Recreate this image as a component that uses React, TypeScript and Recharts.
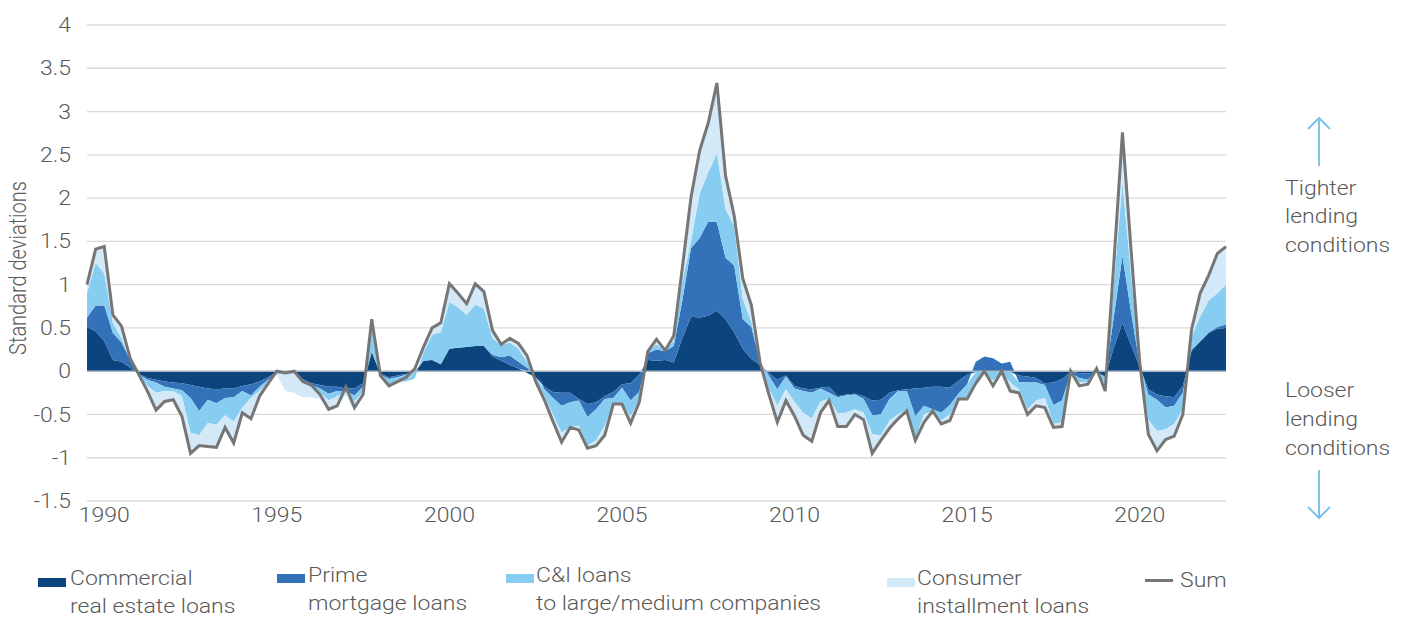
import React from 'react';
import { ComposedChart, Area, Line, XAxis, YAxis, CartesianGrid, ReferenceLine } from 'recharts';

// Quarterly observations, first quarter plotted = 1989 Q3
const START_YEAR = 1989.5;
const QUARTER = 0.25;

const cre = [
  0.51, 0.46, 0.35, 0.13, 0.11, 0.04, -0.03, -0.08, -0.10, -0.12,
  -0.13, -0.14, -0.16, -0.18, -0.20, -0.21, -0.20, -0.20, -0.17, -0.15,
  -0.12, -0.07, -0.01, -0.01, -0.01, -0.09, -0.14, -0.16, -0.18, -0.18,
  -0.20, -0.20, -0.14, 0.22, -0.03, -0.07, -0.05, -0.03, -0.01, 0.12,
  0.13, 0.08, 0.26, 0.27, 0.28, 0.29, 0.29, 0.17, 0.12, 0.07,
  0.03, -0.02, -0.07, -0.18, -0.24, -0.25, -0.25, -0.32, -0.38, -0.36,
  -0.29, -0.24, -0.15, -0.14, -0.04, 0.13, 0.12, 0.13, 0.10, 0.38,
  0.63, 0.62, 0.64, 0.70, 0.60, 0.45, 0.26, 0.14, 0.07, -0.02,
  -0.10, -0.05, -0.17, -0.20, -0.21, -0.19, -0.18, -0.29, -0.27, -0.26,
  -0.29, -0.34, -0.33, -0.25, -0.22, -0.21, -0.20, -0.19, -0.18, -0.18,
  -0.19, -0.11, -0.04, -0.01, -0.01, -0.01, -0.01, -0.01, -0.05, -0.06,
  -0.08, -0.14, -0.13, -0.09, -0.01, -0.02, -0.03, -0.01, -0.06, 0.27,
  0.56, 0.30, 0.05, -0.21, -0.27, -0.29, -0.30, -0.17, 0.23, 0.34,
  0.44, 0.49, 0.50,
];

const prime = [
  0.11, 0.30, 0.41, 0.31, 0.22, 0.09, -0.01, -0.02, -0.03, -0.06,
  -0.07, -0.08, -0.15, -0.28, -0.13, -0.16, -0.11, -0.10, -0.06, -0.13,
  -0.06, -0.03, -0.01, -0.01, -0.01, -0.02, -0.02, -0.04, -0.08, -0.05,
  -0.03, -0.08, -0.04, 0.01, -0.01, -0.02, -0.02, -0.01, -0.005, 0,
  0, 0, 0, 0, 0, 0, 0, 0.02, 0.04, 0.11,
  0.08, 0.04, 0, -0.03, -0.07, -0.15, -0.11, -0.02, -0.15, -0.08,
  -0.03, -0.07, -0.04, -0.20, -0.20, 0.08, 0.13, 0.10, 0.19, 0.44,
  0.79, 0.92, 1.09, 1.02, 0.71, 0.77, 0.34, 0.37, 0.03, -0.03,
  -0.11, -0.01, -0.03, -0.03, -0.04, -0.01, -0.07, -0.01, -0.01, -0.01,
  -0.03, -0.17, -0.17, -0.07, -0.01, -0.02, -0.32, -0.21, -0.26, -0.30,
  -0.20, -0.15, -0.11, 0.11, 0.17, 0.15, 0.09, 0.11, -0.08, -0.07,
  -0.05, -0.02, -0.26, -0.25, -0.01, -0.06, -0.07, 0.01, -0.02, 0.36,
  0.77, 0.38, 0.02, -0.06, -0.06, -0.13, -0.10, -0.08, 0.02, 0.01,
  0.01, 0.02, 0.04,
];

const cAndI = [
  0.28, 0.49, 0.37, 0.12, 0.05, 0.0, -0.01, -0.07, -0.12, -0.05,
  -0.03, -0.07, -0.40, -0.28, -0.27, -0.25, -0.20, -0.28, -0.19, -0.03,
  -0.05, -0.03, -0.01, -0.01, -0.01, -0.02, -0.03, -0.05, -0.08, -0.06,
  -0.02, -0.07, -0.06, 0.28, -0.02, -0.06, -0.05, -0.08, -0.07, 0.10,
  0.29, 0.37, 0.54, 0.47, 0.37, 0.48, 0.43, 0.19, 0.14, 0.15,
  0.15, 0.07, -0.04, -0.08, -0.19, -0.31, -0.29, -0.29, -0.33, -0.36,
  -0.31, -0.07, -0.19, -0.18, -0.10, 0.02, 0.06, 0.01, 0.06, 0.22,
  0.08, 0.51, 0.57, 0.80, 0.56, 0.46, 0.23, 0.06, 0, -0.15,
  -0.19, -0.15, -0.16, -0.25, -0.30, -0.15, -0.07, -0.19, -0.20, -0.17,
  -0.16, -0.22, -0.24, -0.25, -0.27, -0.21, -0.26, -0.10, -0.02, -0.09,
  -0.11, -0.07, -0.15, -0.10, -0.02, -0.10, -0.02, -0.12, -0.08, -0.31,
  -0.21, -0.15, -0.22, -0.25, -0.01, -0.05, -0.03, 0.01, -0.08, 0.38,
  0.85, 0.43, 0.02, -0.29, -0.36, -0.25, -0.21, -0.19, 0.15, 0.28,
  0.37, 0.39, 0.46,
];

const consumer = [
  0.10, 0.16, 0.31, 0.09, 0.14, 0.02, -0.01, -0.06, -0.20, -0.12,
  -0.10, -0.23, -0.24, -0.12, -0.27, -0.26, -0.14, -0.25, -0.06, -0.24,
  -0.06, -0.01, -0.01, -0.20, -0.22, -0.17, -0.11, -0.07, -0.10, -0.10,
  -0.03, -0.12, -0.03, 0.10, -0.01, -0.02, -0.01, -0.01, 0.05, 0.06,
  0.08, 0.11, 0.21, 0.16, 0.13, 0.24, 0.20, 0.09, 0.01, 0.05,
  0.06, 0.07, -0.01, -0.04, -0.08, -0.11, -0.01, -0.05, -0.03, -0.06,
  -0.11, -0.01, -0.01, -0.08, -0.02, 0, 0.06, 0, 0.06, 0.16,
  0.51, 0.50, 0.57, 0.81, 0.39, 0.12, 0.24, 0.19, 0, -0.07,
  -0.19, -0.13, -0.16, -0.26, -0.26, -0.14, -0.02, -0.16, -0.16, -0.06,
  -0.08, -0.22, -0.06, -0.09, -0.05, -0.02, -0.02, -0.09, -0.01, -0.04,
  -0.07, -0.01, -0.02, -0.06, -0.01, -0.06, -0.02, -0.10, -0.04, -0.06,
  -0.06, -0.11, -0.04, -0.05, -0.01, -0.05, -0.02, 0.01, -0.07, 0.24,
  0.58, 0.26, 0.01, -0.17, -0.23, -0.12, -0.14, -0.06, 0.08, 0.27,
  0.29, 0.46, 0.44,
];

const total = [
  1.00, 1.41, 1.44, 0.65, 0.52, 0.15, -0.04, -0.23, -0.45, -0.35,
  -0.33, -0.52, -0.95, -0.86, -0.87, -0.88, -0.65, -0.83, -0.48, -0.55,
  -0.29, -0.14, 0.0, -0.02, 0.0, -0.12, -0.16, -0.27, -0.44, -0.40,
  -0.18, -0.42, -0.27, 0.60, -0.05, -0.17, -0.12, -0.07, 0.03, 0.28,
  0.50, 0.56, 1.01, 0.90, 0.78, 1.01, 0.92, 0.47, 0.31, 0.38,
  0.32, 0.18, -0.12, -0.33, -0.58, -0.82, -0.65, -0.68, -0.89, -0.86,
  -0.74, -0.38, -0.38, -0.60, -0.36, 0.23, 0.37, 0.24, 0.41, 1.20,
  2.01, 2.55, 2.87, 3.33, 2.26, 1.80, 1.07, 0.76, 0.10, -0.26,
  -0.59, -0.34, -0.52, -0.74, -0.81, -0.48, -0.34, -0.64, -0.64, -0.50,
  -0.56, -0.95, -0.80, -0.66, -0.55, -0.46, -0.80, -0.59, -0.46, -0.61,
  -0.57, -0.32, -0.32, -0.14, 0.0, -0.17, 0.0, -0.23, -0.25, -0.50,
  -0.40, -0.42, -0.65, -0.64, 0.0, -0.17, -0.15, 0.03, -0.23, 1.25,
  2.76, 1.40, 0.10, -0.73, -0.92, -0.79, -0.75, -0.50, 0.48, 0.90,
  1.11, 1.36, 1.44,
];

const yearTicks = [1990, 1995, 2000, 2005, 2010, 2015, 2020];
const yTicks = [-1.5, -1, -0.5, 0, 0.5, 1, 1.5, 2, 2.5, 3, 3.5, 4];

const seriesNames = {
  cre: ['Commercial', 'real estate loans'],
  prime: ['Prime', 'mortgage loans'],
  cAndI: ['C&I loans', 'to large/medium companies'],
  consumer: ['Consumer', 'installment loans'],
  total: ['Sum'],
};

const data = total.map((s, i) => ({
  t: START_YEAR + i * QUARTER,
  cre: cre[i],
  prime: prime[i],
  cAndI: cAndI[i],
  consumer: consumer[i],
  total: s,
}));

const FONT = "Roboto, 'Noto Sans', 'DejaVu Sans', sans-serif";
const TEXT = '#595959';
const C_CRE = '#0c457d';
const C_PRIME = '#3372b8';
const C_CNI = '#87cdf2';
const C_CONS = '#d4e9f8';
const C_SUM = '#767676';
const C_ARROW = '#7cc4ec';
const STRETCH = 1.15; // horizontal stretch of the glyphs seen in the picture

const YTick = (props: any) => {
  const { x, y, payload } = props;
  return (
    <g transform={`translate(${x},${y}) scale(${STRETCH},1)`}>
      <text x={0} y={0} dy="0.355em" textAnchor="end" fill={TEXT} fontSize={20} fontFamily={FONT} fontWeight={300}>
        {payload.value}
      </text>
    </g>
  );
};

const XTick = (props: any) => {
  const { x, y, payload } = props;
  return (
    <g transform={`translate(${x},${y}) scale(${STRETCH},1)`}>
      <text x={0} y={0} dy="0.71em" textAnchor="middle" fill={TEXT} fontSize={20} fontFamily={FONT} fontWeight={300}>
        {payload.value}
      </text>
    </g>
  );
};

const legendText: React.CSSProperties = {
  position: 'absolute',
  fontFamily: FONT,
  fontWeight: 300,
  fontSize: 20,
  lineHeight: '28px',
  color: TEXT,
  whiteSpace: 'nowrap',
  transform: `scaleX(${STRETCH})`,
  transformOrigin: '0 0',
};

const Swatch = ({ left, top, color, h = 9 }: { left: number; top: number; color: string; h?: number }) => (
  <div style={{ position: 'absolute', left, top, width: 28, height: h, background: color }} />
);

const SideText = ({ x, y, children }: { x: number; y: number; children: React.ReactNode }) => (
  <g transform={`translate(${x},${y}) scale(${STRETCH},1)`}>
    <text x={0} y={0} dominantBaseline="central" fill={TEXT} fontSize={20} fontFamily={FONT} fontWeight={300}>
      {children}
    </text>
  </g>
);

export default function App() {
  return (
    <div style={{ position: 'absolute', left: 0, top: 0, width: 1406, height: 617, background: '#fff' }}>
      <ComposedChart
        width={1406}
        height={617}
        data={data}
        stackOffset="sign"
        margin={{ top: 25, right: 180, bottom: 86, left: 7 }}
      >
        <CartesianGrid vertical={false} stroke="#d9d9d9" strokeWidth={1.3} />
        <XAxis
          type="number"
          dataKey="t"
          domain={[1989.5, 2022.5]}
          ticks={yearTicks}
          interval={0}
          axisLine={false}
          tickLine={false}
          tickSize={0}
          tickMargin={7}
          height={30}
          tick={<XTick />}
        />
        <YAxis
          domain={[-1.5, 4]}
          ticks={yTicks}
          interval={0}
          width={80}
          axisLine={false}
          tickLine={false}
          tickSize={0}
          tickMargin={16}
          tick={<YTick />}
        />
        <Area type="linear" dataKey="cre" stackId="s" fill={C_CRE} stroke="none" fillOpacity={1} isAnimationActive={false} />
        <Area type="linear" dataKey="prime" stackId="s" fill={C_PRIME} stroke="none" fillOpacity={1} isAnimationActive={false} />
        <Area type="linear" dataKey="cAndI" stackId="s" fill={C_CNI} stroke="none" fillOpacity={1} isAnimationActive={false} />
        <Area type="linear" dataKey="consumer" stackId="s" fill={C_CONS} stroke="none" fillOpacity={1} isAnimationActive={false} />
        <ReferenceLine y={0} stroke="#abb8c7" strokeWidth={1.5} />
        <Line type="linear" dataKey="total" stroke={C_SUM} strokeWidth={3} dot={false} isAnimationActive={false} />
      </ComposedChart>

      <svg width={1406} height={617} style={{ position: 'absolute', left: 0, top: 0, pointerEvents: 'none' }}>
        <g transform={`translate(18,268) scale(${STRETCH},1) rotate(-90)`}>
          <text
            x={0}
            y={0}
            textAnchor="middle"
            dominantBaseline="central"
            fill={TEXT}
            fontSize={20}
            fontFamily={FONT}
            fontWeight={300}
          >
            Standard deviations
          </text>
        </g>
        {/* up arrow */}
        <line x1={1319} y1={118} x2={1319} y2={166} stroke={C_ARROW} strokeWidth={2} />
        <polyline points="1308,129 1319,118 1330,129" fill="none" stroke={C_ARROW} strokeWidth={2} />
        {/* down arrow */}
        <line x1={1319} y1={470} x2={1319} y2={518} stroke={C_ARROW} strokeWidth={2} />
        <polyline points="1308,507 1319,518 1330,507" fill="none" stroke={C_ARROW} strokeWidth={2} />
        <SideText x={1285} y={188}>Tighter</SideText>
        <SideText x={1285} y={216}>lending</SideText>
        <SideText x={1285} y={245}>conditions</SideText>
        <SideText x={1285} y={390}>Looser</SideText>
        <SideText x={1285} y={419}>lending</SideText>
        <SideText x={1285} y={448}>conditions</SideText>
      </svg>

      {/* legend */}
      <Swatch left={38} top={578} color={C_CRE} />
      <div style={{ ...legendText, left: 70, top: 564 }}>
        {seriesNames.cre[0]}<br />{seriesNames.cre[1]}
      </div>
      <Swatch left={277} top={574} color={C_PRIME} />
      <div style={{ ...legendText, left: 308, top: 561 }}>
        {seriesNames.prime[0]}<br />{seriesNames.prime[1]}
      </div>
      <Swatch left={506} top={574} color={C_CNI} />
      <div style={{ ...legendText, left: 536, top: 561 }}>
        {seriesNames.cAndI[0]}<br />{seriesNames.cAndI[1]}
      </div>
      <Swatch left={887} top={578} color={C_CONS} />
      <div style={{ ...legendText, left: 917, top: 564 }}>
        {seriesNames.consumer[0]}<br />{seriesNames.consumer[1]}
      </div>
      <Swatch left={1145} top={579} color={C_SUM} h={3} />
      <div style={{ ...legendText, left: 1180, top: 566 }}>{seriesNames.total[0]}</div>
    </div>
  );
}
